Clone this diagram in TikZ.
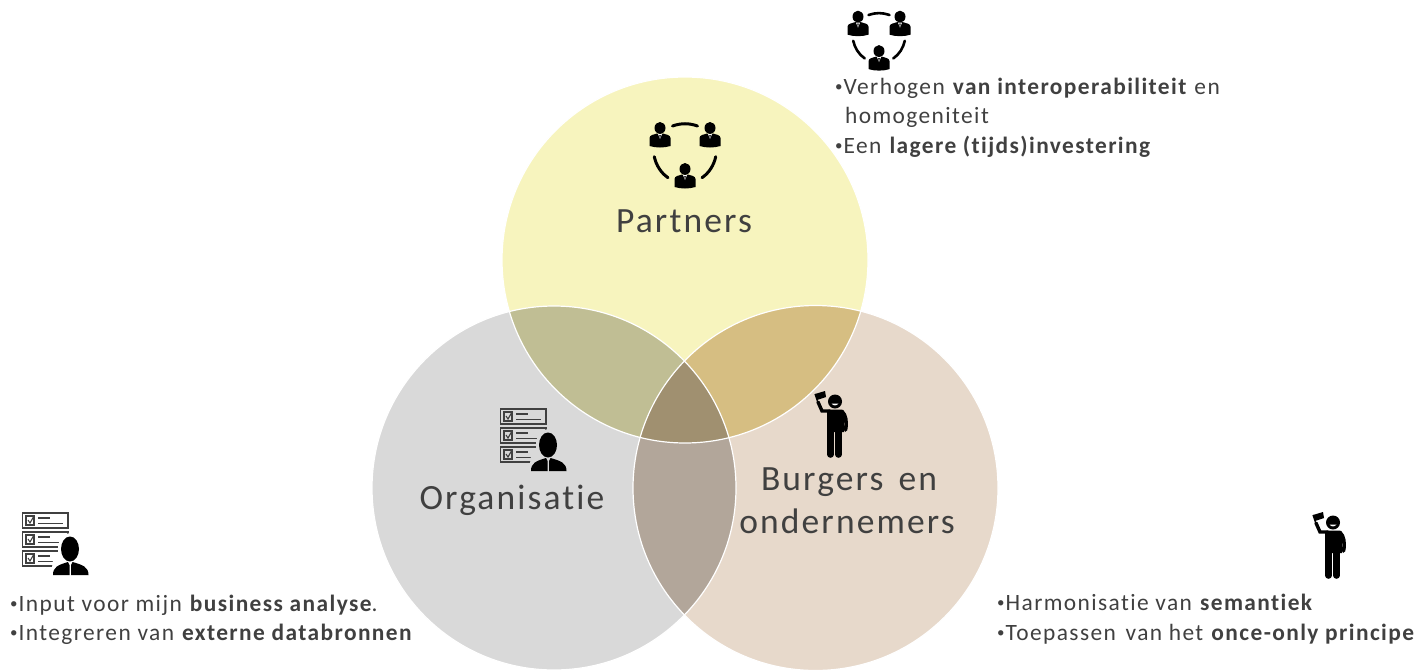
\documentclass[tikz,border=0pt]{standalone}
\usepackage{fontspec}
\setmainfont[LetterSpace=6,Ligatures=NoCommon,Contextuals=NoAlternate]{Carlito}
\definecolor{geelvlak}{HTML}{F7F4BE}
\definecolor{grijsvlak}{HTML}{D9D9D9}
\definecolor{beigevlak}{HTML}{E7D9CB}
\definecolor{geelgrijs}{HTML}{C0BE94}
\definecolor{geelbeige}{HTML}{D6BE82}
\definecolor{grijsbeige}{HTML}{B2A69A}
\definecolor{midden}{HTML}{A09070}
\definecolor{tekst}{HTML}{404040}
\newcommand{\stip}{\raisebox{2.5pt}{\fontsize{15}{15}\selectfont\addfontfeature{LetterSpace=0}•}\hspace{1pt}}
\tikzset{
	kop/.style={text=tekst,font=\fontsize{35.5}{38}\selectfont,inner sep=0pt},
	regel/.style={text=tekst,font=\fontsize{23.4}{26}\selectfont,anchor=base west,inner sep=0pt},
	pics/zakenman/.style={code={
		\fill (0,0) ellipse (5.5 and 6);
		\fill (-10.5,18) -- (-10.5,10) .. controls (-10.5,7) and (-6,6.5) .. (-3,5.5) -- (3,5.5) .. controls (6,6.5) and (10.5,7) .. (10.5,10) -- (10.5,18) .. controls (4,20) and (-4,20) .. (-10.5,18) -- cycle;
		\fill[white] (-2,6) -- (2,6) -- (0,11) -- cycle;
		\fill (-.8,7) -- (.8,7) -- (0,11) -- cycle;
	}},
	pics/netwerk/.style={code={
		\pic at (-25,-23) {zakenman};
		\pic at (25,-23) {zakenman};
		\pic at (0,18) {zakenman};
		\draw[line width=#1,line cap=round] (-12.5,-25) .. controls (-4,-28) and (4,-28) .. (12.5,-25);
		\draw[line width=#1,line cap=round] (-30.7,5.7) .. controls (-29,14) and (-24,22) .. (-17,26.7);
		\draw[line width=#1,line cap=round] (30.7,5.7) .. controls (29,14) and (24,22) .. (17,26.7);
	}},
	pics/formulieren/.style={code={
		\foreach \y/\b in {0/46,19/46,38/40}{
			\draw[line width=1.5,draw=black!75] (0.5,\y) rectangle (\b,\y+15);
			\draw[line width=1.1,draw=black!75] (4,\y+3) rectangle (12,\y+12);
			\draw[line width=1.1,draw=black!75] (6,\y+7) -- (8,\y+10) -- (12,\y+3);
			\draw[line width=1.7,draw=black!75] (16,\y+5) -- (28,\y+5);
			\draw[line width=1.7,draw=black!75] (16,\y+10.5) -- (41,\y+10.5);
		}
		\fill[#1] (48,36) ellipse (12 and 16);
		\fill[#1] (29,62) -- (31,47) -- (66,47) -- (67,62) -- cycle;
		\fill (48,36) ellipse (9 and 12.5);
		\fill (31,62) .. controls (31,54) and (36,52) .. (46,49) -- (47.5,52) -- (47.5,62) -- cycle;
		\fill (66.5,62) .. controls (66.5,54) and (61,52) .. (50.5,49) -- (49,52) -- (49,62) -- cycle;
	}},
	pics/vlagdrager/.style={code={
		\fill (25,14) -- (35,11) -- (36,17) -- (27,20) -- cycle;
		\draw[line width=1.2] (25,14) -- (28,23);
		\draw[line width=3.4,line cap=round] (28,22) -- (32,31) -- (40,31);
		\fill (45,21.5) circle (7);
		\fill[white] (41.5,23.5) .. controls (43,26) and (47,26) .. (48.5,23.5) -- cycle;
		\fill (37,32) .. controls (37,30) and (38,29.5) .. (40,29.5) -- (51,29.5) .. controls (53,29.5) and (54,30) .. (54,32) -- (54,52) -- (37,52) -- cycle;
		\draw[line width=3.6,line cap=round] (52,31.5) .. controls (56,35) and (57,42) .. (55.5,50);
		\draw[line width=6.6,line cap=round] (40.5,50) -- (40.5,74.5);
		\draw[line width=6.6,line cap=round] (48.5,50) -- (48.5,74.5);
	}}
}
\begin{document}
\begin{tikzpicture}[x=1pt,y=-1pt]
	\useasboundingbox (0,0) rectangle (1418,669);
	\coordinate (partners) at (685,260);
	\coordinate (organisatie) at (554,488);
	\coordinate (burgers) at (815.5,488);
	
	\fill[geelvlak] (partners) circle (183);
	\fill[grijsvlak] (organisatie) circle (182);
	\fill[beigevlak] (burgers) circle (182.5);
	\begin{scope}
		\clip (partners) circle (183);
		\fill[geelgrijs] (organisatie) circle (182);
		\fill[geelbeige] (burgers) circle (182.5);
	\end{scope}
	\begin{scope}
		\clip (organisatie) circle (182);
		\fill[grijsbeige] (burgers) circle (182.5);
		\clip (burgers) circle (182.5);
		\fill[midden] (partners) circle (183);
	\end{scope}
	\draw[white,line width=1.2] (partners) circle (183);
	\draw[white,line width=1.2] (organisatie) circle (182);
	\draw[white,line width=1.2] (burgers) circle (182.5);
	
	\pic at (685,151) {netwerk=3};
	\pic[scale=.84] at (879,36) {netwerk=2.6};
	\pic at (500,409) {formulieren=grijsvlak};
	\pic at (22,513) {formulieren=white};
	\pic at (790,380) {vlagdrager};
	\pic at (1288,501) {vlagdrager};
	
	\node[kop] (partnerskop) at (684,221) {Partners};
	\node[kop] (organisatiekop) at (512,500) {Organisatie};
	\node[kop] (burgerskop) at (849,482) {Burgers\hspace{5pt} en};
	\node[kop] (ondernemerskop) at (847,521) {ondernemers};
	
	\node[regel] (p1) at (835,94) {\stip Verhogen \textbf{van interoperabiliteit} en};
	\node[regel] (p2) at (845,123) {homogeniteit};
	\node[regel] (p3) at (835,153) {\stip Een \textbf{lagere (tijds)investering}};
	\node[regel] (o1) at (10,611) {\stip Input voor mijn \textbf{business analyse}.};
	\node[regel] (o2) at (10,640) {\stip Integreren van \textbf{externe databronnen}};
	\node[regel] (b1) at (997,610) {\stip Harmonisatie van \textbf{semantiek}};
	\node[regel] (b2) at (997,640) {\stip Toepassen\hspace{3pt} van het \textbf{once-only principe}};
\end{tikzpicture}
\end{document}
